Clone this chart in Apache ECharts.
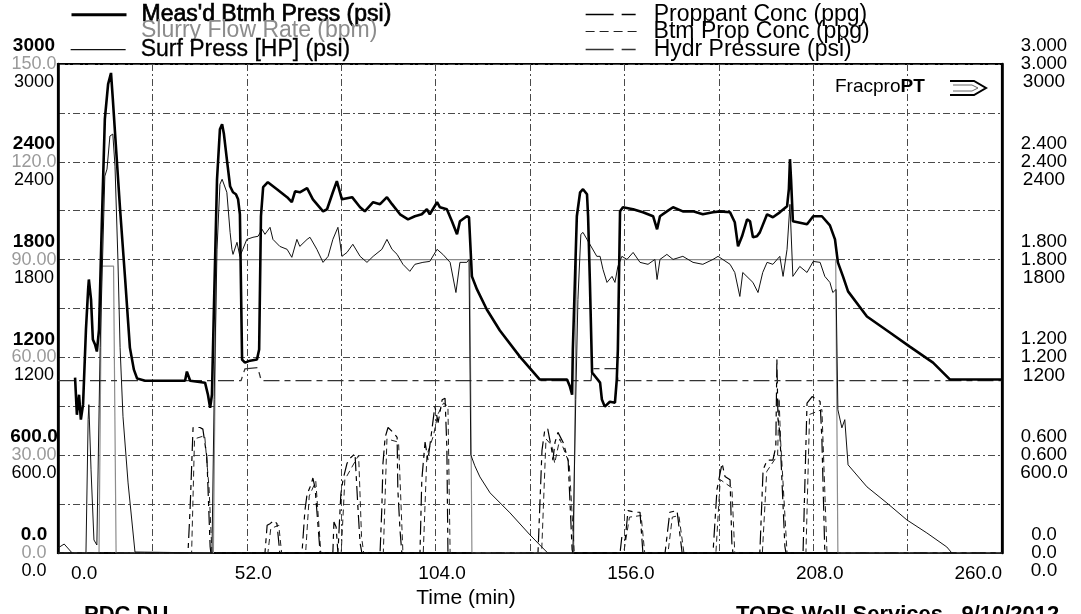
<!DOCTYPE html>
<html><head><meta charset="utf-8">
<script src="https://cdn.jsdelivr.net/npm/echarts@6/dist/echarts.min.js"></script>
<style>html,body{margin:0;padding:0;background:#fff}#c{width:1081px;height:614px}</style>
</head><body><div id="c"></div>
<script>
// ---- tick labels ----
const timeTicks = ['0.0','52.0','104.0','156.0','208.0','260.0'];
const bhpTicks  = ['0.0','600.0','1200','1800','2400','3000'];
const rateTicks = ['0.0','30.00','60.00','90.00','120.0','150.0'];
const surfTicks = ['0.0','600.0','1200','1800','2400','3000'];
const propTicks = ['0.0','0.600','1.200','1.800','2.400','3.000'];
const btmTicks  = ['0.0','0.600','1.200','1.800','2.400','3.000'];
const hydrTicks = ['0.0','600.0','1200','1800','2400','3000'];

// ---- series: [time (min), value] ----
const bhp = [[4.7,1076],[5.2,848],[5.8,971],[6.3,818],[6.9,910],[7.7,1371],[8.3,1617],[8.5,1678],[9.1,1555],[9.6,1310],[10.2,1279],[10.7,1236],[11.3,1371],[12.1,2047],[12.9,2662],[13.8,2877],[14.6,2945],[15.1,2785],[16.0,2478],[17.1,2109],[18.5,1678],[19.8,1260],[20.9,1125],[21.8,1070],[24.0,1057],[35.0,1057],[35.5,1113],[36.4,1057],[40.5,1045],[41.3,971],[41.9,891],[42.4,971],[43.0,1555],[43.8,2293],[44.6,2600],[45.2,2631],[45.7,2570],[46.5,2416],[47.4,2250],[48.2,2213],[49.0,2201],[49.6,2170],[50.1,2078],[50.7,1187],[51.5,1168],[52.9,1180],[54.8,1187],[55.4,1248],[55.9,2066],[56.5,2244],[57.8,2275],[60.3,2232],[63.1,2183],[64.4,2152],[65.3,2219],[66.6,2213],[68.6,2238],[70.2,2170],[73.0,2096],[74.1,2109],[75.7,2213],[76.8,2281],[78.2,2170],[81.0,2183],[83.2,2121],[84.5,2096],[86.8,2152],[88.7,2140],[90.6,2183],[92.0,2140],[94.2,2078],[96.4,2047],[98.3,2066],[100.2,2078],[101.6,2109],[102.4,2078],[104.4,2152],[105.2,2121],[107.1,2109],[108.5,2035],[109.9,1955],[110.7,2035],[112.6,2066],[113.2,2060],[114.0,1697],[115.4,1617],[118.1,1494],[121.7,1365],[127.2,1205],[132.7,1064],[140.2,1064],[141.0,1021],[141.6,971],[141.8,1248],[142.9,2066],[143.8,2213],[144.6,2232],[145.7,2201],[146.0,2066],[146.5,1660],[147.1,1107],[149.3,1045],[149.8,941],[150.6,898],[152.0,928],[153.4,922],[153.9,1064],[154.2,1248],[154.8,2096],[155.6,2121],[158.4,2109],[161.1,2090],[163.9,2066],[165.0,1986],[165.8,2066],[167.7,2096],[169.4,2121],[172.1,2096],[174.9,2096],[177.6,2078],[180.4,2090],[182.3,2096],[185.1,2090],[186.4,2029],[187.3,1881],[188.4,1943],[189.8,2047],[190.6,2035],[191.4,1937],[192.5,1943],[193.3,1967],[195.3,2078],[196.9,2060],[198.8,2090],[200.8,2127],[201.3,2232],[201.6,2416],[201.9,2293],[202.4,2035],[206.3,2017],[208.0,2066],[210.4,2066],[212.6,2010],[214.0,1924],[214.8,1783],[216.2,1697],[217.6,1605],[222.8,1451],[229.1,1353],[234.6,1266],[241.0,1168],[245.7,1064],[260,1064]];

const slurryRate = [[0,0],[11.3,0],[12.0,88],[15.3,88],[16.0,0],[42.8,0],[43.6,90],[113.4,90],[114.0,0],[142.0,0],[142.8,90],[214.2,90],[214.8,0],[260,0]];

const surfPress = [[0,31],[1.7,55],[3.9,0],[7.7,0],[8.3,818],[8.5,910],[9.1,510],[9.9,80],[10.7,49],[11.6,1260],[12.9,2312],[13.5,2355],[14.3,2558],[15.1,2570],[15.7,2373],[16.5,1801],[17.1,1260],[17.9,836],[19.3,430],[21.2,6],[42.4,0],[43.0,941],[43.8,1863],[44.6,2262],[45.2,2293],[46.5,2213],[47.4,1967],[47.9,1863],[48.2,1832],[49.3,1906],[50.1,1820],[50.9,1863],[52.0,1924],[53.7,1937],[55.1,1943],[56.2,1986],[57.0,1955],[58.4,1998],[59.2,1924],[61.1,1881],[63.1,1863],[64.4,1814],[65.8,1924],[66.6,1881],[68.6,1924],[69.4,1937],[71.3,1863],[73.0,1783],[74.4,1820],[75.7,1924],[77.1,1998],[78.2,1820],[79.6,1844],[81.2,1894],[83.2,1820],[85.1,1783],[86.8,1820],[89.2,1863],[90.6,1924],[92.0,1863],[93.4,1832],[95.0,1771],[96.9,1728],[98.3,1771],[100.5,1783],[102.4,1789],[104.4,1863],[106.0,1832],[108.0,1783],[109.6,1598],[110.7,1783],[112.6,1783],[113.2,1801],[113.7,602],[114.8,535],[116.2,467],[119.0,369],[124.5,246],[130.0,111],[132.7,49],[134.9,0],[141.8,0],[142.6,941],[143.2,1555],[144.0,1955],[144.6,1967],[145.7,1924],[148.4,1820],[149.3,1820],[150.1,1740],[151.2,1660],[152.6,1697],[153.4,1660],[154.2,1758],[155.3,1820],[156.7,1801],[158.4,1844],[160.3,1783],[162.5,1771],[164.4,1801],[165.0,1678],[165.8,1801],[167.7,1832],[169.4,1801],[172.1,1820],[174.9,1783],[177.6,1771],[180.4,1801],[181.8,1820],[185.1,1771],[186.4,1721],[187.8,1574],[188.6,1721],[191.4,1660],[192.8,1598],[194.1,1721],[195.3,1783],[196.9,1771],[198.8,1820],[199.7,1697],[200.8,1863],[201.6,2139],[202.4,1697],[204.3,1758],[206.3,1721],[208.0,1789],[209.9,1783],[211.2,1697],[212.6,1660],[213.4,1598],[214.3,1617],[214.8,879],[215.9,768],[216.7,818],[217.6,541],[222.8,406],[228.3,307],[233.8,203],[239.3,123],[244.8,37],[246.2,0]];

const proppantConc = [[0,0],[35.8,0],[36.4,0.28],[37.2,0.77],[39.1,0.77],[39.9,0.76],[41.0,0.59],[41.9,0.04],[42.1,0],[57.0,0],[57.6,0.17],[58.4,0.18],[59.5,0.20],[60.3,0.18],[61.1,0],[67.2,0],[68.0,0.26],[68.6,0.36],[69.7,0.42],[70.2,0.46],[70.8,0.40],[72.2,0],[75.7,0],[76.0,0.19],[76.6,0.16],[77.1,0],[77.9,0.36],[78.5,0.45],[79.6,0.55],[80.4,0.58],[81.8,0.61],[82.3,0.62],[82.6,0.28],[83.2,0.06],[83.7,0],[88.7,0],[89.2,0.28],[89.5,0.55],[90.1,0.71],[90.9,0.77],[92.3,0.74],[93.4,0.71],[93.6,0.39],[94.2,0.14],[94.7,0],[99.7,0],[100.2,0.45],[101.1,0.68],[101.9,0.57],[103.0,0.76],[103.8,0.90],[104.7,0.80],[105.8,0.94],[106.6,0.95],[107.1,0.65],[107.4,0],[132.2,0],[133.3,0.63],[134.1,0.76],[134.9,0.76],[136.0,0.63],[136.3,0.57],[136.9,0.68],[137.7,0.74],[139.1,0.68],[140.5,0.57],[141.6,0.02],[141.8,0],[154.8,0],[155.3,0.10],[156.2,0.08],[157.0,0.26],[158.9,0.25],[160.3,0.25],[161.1,0],[167.2,0],[168.5,0.25],[170.5,0.26],[171.9,0],[180.4,0],[181.5,0.39],[182.9,0.55],[183.7,0.47],[185.1,0.45],[185.6,0.06],[185.9,0],[193.3,0],[194.2,0.51],[195.3,0.57],[196.9,0.57],[197.7,0.65],[198.0,1.19],[198.3,0.82],[198.8,0.74],[200.2,0.04],[200.5,0],[205.2,0],[206.3,0.92],[207.7,0.96],[209.9,0.93],[210.4,0.69],[210.7,0.43],[211.2,0],[260,0]];

const btmPropConc = [[0,0],[36.8,0],[37.6,0.70],[40.4,0.72],[41.6,0.40],[42.4,0],[57.8,0],[58.6,0.15],[60.8,0.17],[61.6,0],[68.2,0],[69.2,0.35],[71.0,0.44],[72.4,0],[78.0,0],[79.0,0.45],[82.8,0.60],[83.6,0.10],[84.2,0],[89.6,0],[90.6,0.70],[93.8,0.68],[95.0,0],[100.6,0],[101.6,0.60],[103.4,0.72],[104.6,0.85],[106.2,0.92],[107.4,0.90],[108.0,0],[133.2,0],[134.4,0.70],[136.0,0.66],[136.8,0.55],[138.2,0.70],[140.8,0.55],[142.2,0],[155.8,0],[157.4,0.22],[160.6,0.23],[161.6,0],[168.0,0],[169.2,0.22],[171.0,0.23],[172.4,0],[181.2,0],[182.4,0.45],[185.6,0.40],[186.4,0],[194.0,0],[195.2,0.50],[198.2,0.60],[198.6,0.95],[199.0,0.70],[200.8,0],[206.0,0],[207.0,0.85],[210.4,0.88],[211.8,0],[260,0]];

const hydrPress = [[0,1057],[50.4,1057],[51.5,1130],[55.0,1137],[56.0,1057],[146.8,1057],[147.1,1131],[153.9,1131],[154.2,1057],[260,1057]];

const names = ["Meas'd Btmh Press (psi)","Slurry Flow Rate (bpm)","Surf Press [HP] (psi)","Proppant Conc (ppg)","Btm Prop Conc (ppg)","Hydr Pressure (psi)"];

const FONT = 'Liberation Sans, Arial, sans-serif';
const gridLine = {show:true, lineStyle:{color:'#4a4a4a', width:1, type:[7,3,2,3]}};
const hiddenSymbol = {color:'transparent', borderColor:'transparent', borderWidth:0, opacity:0};

const chart = echarts.init(document.getElementById('c'), null, {renderer:'canvas'});

function legendItem(name, left, top, color, iw, extra, lineExtra){
  const o = {
    data:[name], left:left, top:top, orient:'horizontal',
    itemWidth:iw, itemHeight:12, selectedMode:false, padding:0,
    itemStyle:hiddenSymbol,
    textStyle:Object.assign({fontFamily:FONT, fontSize:23, color:color, padding:[0,0,0,10]}, extra||{})
  };
  if (lineExtra) o.lineStyle = lineExtra;
  return o;
}

chart.setOption({
  animation:false,
  backgroundColor:'#fff',
  grid:{left:58, top:64, right:79, bottom:61, show:true, borderColor:'#000', borderWidth:2.2, backgroundColor:'transparent'},
  legend:[
    legendItem(names[0], 70, 3, '#000', 55, {textBorderColor:'#000', textBorderWidth:0.7}, {width:3}),
    legendItem(names[1], 70, 19, '#8c8c8c', 55, null, {opacity:0}),
    legendItem(names[2], 70, 38, '#000', 55, {textBorderColor:'#000', textBorderWidth:0.3}, {width:1.3}),
    legendItem(names[3], 585, 3, '#000', 53, null, {width:1.3, type:[28,8,14,8]}),
    legendItem(names[4], 585, 20, '#000', 53, null, {width:1.2, type:[9,5]}),
    legendItem(names[5], 585, 38, '#000', 53, null, {width:1.3, type:[28,8,14,8]})
  ],
  xAxis:{
    type:'value', min:0, max:260, interval:52,
    name:'Time (min)', nameLocation:'middle', nameGap:34,
    nameTextStyle:{fontFamily:FONT, fontSize:21, color:'#000', padding:[0,128,0,0]},
    axisLine:{show:true, lineStyle:{color:'#000', width:2.2}},
    axisTick:{show:false},
    minorTick:{show:false, splitNumber:2},
    splitLine:gridLine,
    minorSplitLine:gridLine,
    axisLabel:{
      fontFamily:FONT, fontSize:19, color:'#000', margin:11,
      padding:[0,0,0,13], alignMinLabel:'left', alignMaxLabel:'right',
      formatter:v => timeTicks[Math.round(v/52)]
    }
  },
  yAxis:[
    {
      type:'value', position:'left', min:0, max:3000, interval:600,
      axisLine:{show:true, lineStyle:{color:'#000', width:2.6}},
      axisTick:{show:false},
      minorTick:{show:false, splitNumber:2},
      splitLine:gridLine,
      minorSplitLine:gridLine,
      axisLabel:{
        margin:24, align:'center', verticalAlign:'middle', fontFamily:FONT,
        formatter:v => { const i = Math.round(v/600); return '{a|'+bhpTicks[i]+'}\n{b|'+rateTicks[i]+'}\n{c|'+surfTicks[i]+'}'; },
        rich:{
          a:{fontFamily:FONT, fontSize:19, fontWeight:'bold', color:'#000', lineHeight:18, align:'center'},
          b:{fontFamily:FONT, fontSize:18, color:'#9a9a9a', lineHeight:18, align:'center'},
          c:{fontFamily:FONT, fontSize:18, color:'#000', lineHeight:18, align:'center'}
        }
      }
    },
    {type:'value', position:'left', min:0, max:150, show:false},
    {
      type:'value', position:'right', min:0, max:3, interval:0.6,
      axisLine:{show:true, lineStyle:{color:'#000', width:2.6}},
      axisTick:{show:false},
      splitLine:{show:false},
      axisLabel:{
        margin:42, align:'center', verticalAlign:'middle', fontFamily:FONT,
        formatter:v => { const i = Math.round(v/0.6); return '{a|'+propTicks[i]+'}\n{b|'+btmTicks[i]+'}\n{c|'+hydrTicks[i]+'}'; },
        rich:{
          a:{fontFamily:FONT, fontSize:18.5, color:'#000', lineHeight:18, align:'center'},
          b:{fontFamily:FONT, fontSize:18.5, color:'#000', lineHeight:18, align:'center'},
          c:{fontFamily:FONT, fontSize:19, color:'#000', lineHeight:18, align:'center'}
        }
      }
    }
  ],
  series:[
    {name:names[0], type:'line', data:bhp, yAxisIndex:0, symbol:'none', z:10, color:'#000',
     lineStyle:{color:'#000', width:2.6}},
    {name:names[1], type:'line', data:slurryRate, yAxisIndex:1, symbol:'none', z:4, color:'#8c8c8c',
     lineStyle:{color:'#8c8c8c', width:1.2}},
    {name:names[2], type:'line', data:surfPress, yAxisIndex:0, symbol:'none', z:8, color:'#111',
     lineStyle:{color:'#111', width:1}},
    {name:names[3], type:'line', data:proppantConc, yAxisIndex:2, symbol:'none', z:6, color:'#000',
     lineStyle:{color:'#000', width:1.2, type:[14,5,5,5]}},
    {name:names[4], type:'line', data:btmPropConc, yAxisIndex:2, symbol:'none', z:5, color:'#222',
     lineStyle:{color:'#222', width:1, type:[6,4]}},
    {name:names[5], type:'line', data:hydrPress, yAxisIndex:0, symbol:'none', z:7, color:'#333',
     lineStyle:{color:'#333', width:1.3, type:[16,5,6,5]}}
  ],
  graphic:[
    {type:'text', left:835, top:77, z:20, style:{
      text:'{f|Fracpro}{p|PT}', fontFamily:FONT,
      rich:{f:{fontFamily:FONT, fontSize:19, color:'#8a8a8a'}, p:{fontFamily:FONT, fontSize:19, fontWeight:'bold', color:'#000'}}
    }},
    {type:'polyline', z:20, shape:{points:[[950,81],[974,81],[986,88],[974,95],[950,95]]}, style:{stroke:'#000', lineWidth:2, fill:null}},
    {type:'polyline', z:20, shape:{points:[[953,85],[972,85],[978,88],[972,91],[953,91]]}, style:{stroke:'#666', lineWidth:1, fill:null}},
    {type:'text', left:84, top:604, z:20, style:{text:'PDC DU', fontFamily:FONT, fontSize:22, fontWeight:'bold', fill:'#000'}},
    {type:'text', left:736, top:604, z:20, style:{text:'TOPS Well Services   9/10/2012', fontFamily:FONT, fontSize:22, fontWeight:'bold', fill:'#000'}}
  ]
});
</script>
</body></html>
